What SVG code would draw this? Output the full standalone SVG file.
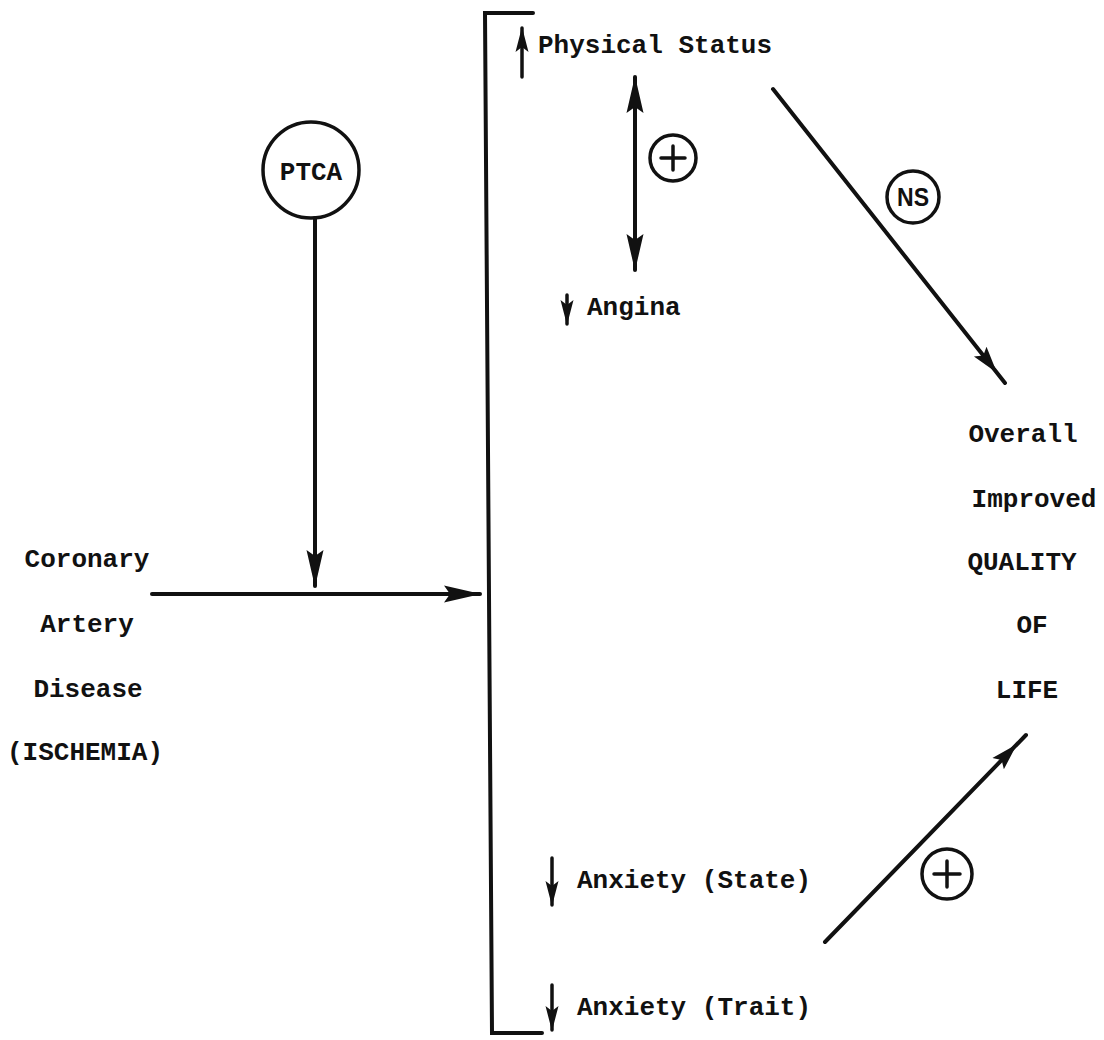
<svg xmlns="http://www.w3.org/2000/svg" width="1104" height="1040" viewBox="0 0 1104 1040">
<defs>
<style>
.t{font-family:"Liberation Mono","DejaVu Sans Mono",monospace;font-weight:bold;font-size:26px;fill:#111}
.ln{stroke:#111;stroke-width:4;fill:none;stroke-linecap:round}
.sl{stroke:#111;stroke-width:3.5;fill:none;stroke-linecap:round}
.circ{stroke:#111;stroke-width:3.5;fill:#fff}
.ns{font-family:"Liberation Sans",Arial,sans-serif;font-weight:bold;font-size:25px;fill:#111}
</style>
<marker id="ah" markerUnits="userSpaceOnUse" viewBox="-40 -10 42 20" refX="0" refY="0" markerWidth="42" markerHeight="20" orient="auto-start-reverse">
<path d="M1,0 L-36,-8.5 L-30,0 L-36,8.5 Z" fill="#111"/>
</marker>
<marker id="ahs" markerUnits="userSpaceOnUse" viewBox="-40 -10 42 20" refX="0" refY="0" markerWidth="42" markerHeight="20" orient="auto">
<path d="M-13,0 L-40,-8 L-35,0 L-40,8 Z" fill="#111"/>
</marker>
<marker id="sm" markerUnits="userSpaceOnUse" viewBox="-26 -7 28 14" refX="0" refY="0" markerWidth="28" markerHeight="14" orient="auto">
<path d="M1,0 L-24,-6.5 L-19,0 L-24,6.5 Z" fill="#111"/>
</marker>
</defs>
<rect width="1104" height="1040" fill="#fff"/>

<g id="bracket">
<path class="ln" d="M533,13 L485,13 L492,1033 L542,1033"/>
</g>

<g id="node-ptca">
<circle class="circ" cx="311" cy="170" r="48"/>
<text class="t" x="311" y="180" text-anchor="middle">PTCA</text>
</g>

<g id="node-cad">
<text class="t" x="87" y="567" text-anchor="middle">Coronary</text>
<text class="t" x="87" y="632" text-anchor="middle">Artery</text>
<text class="t" x="88" y="697" text-anchor="middle">Disease</text>
<text class="t" x="85" y="760" text-anchor="middle">(ISCHEMIA)</text>
</g>

<g id="node-physical">
<line class="sl" x1="522" y1="77" x2="522" y2="28" marker-end="url(#sm)"/>
<text class="t" x="538" y="53">Physical Status</text>
</g>

<g id="node-angina">
<line class="sl" x1="567" y1="295" x2="567" y2="324" marker-end="url(#sm)"/>
<text class="t" x="587" y="315">Angina</text>
</g>

<g id="node-anx-state">
<line class="sl" x1="552" y1="858" x2="552" y2="905" marker-end="url(#sm)"/>
<text class="t" x="577" y="888">Anxiety (State)</text>
</g>

<g id="node-anx-trait">
<line class="sl" x1="552" y1="985" x2="552" y2="1030" marker-end="url(#sm)"/>
<text class="t" x="577" y="1015">Anxiety (Trait)</text>
</g>

<g id="node-qol">
<text class="t" x="1023" y="442" text-anchor="middle">Overall</text>
<text class="t" x="1034" y="507" text-anchor="middle">Improved</text>
<text class="t" x="1022" y="570" text-anchor="middle">QUALITY</text>
<text class="t" x="1032" y="633" text-anchor="middle">OF</text>
<text class="t" x="1027" y="698" text-anchor="middle">LIFE</text>
</g>

<g id="connectors">
<line class="ln" x1="315" y1="218" x2="315" y2="586" marker-end="url(#ah)"/>
<line class="ln" x1="152" y1="594" x2="480" y2="594" marker-end="url(#ah)"/>
<line class="ln" x1="635" y1="77" x2="635" y2="270" marker-start="url(#ah)" marker-end="url(#ah)"/>
<line class="ln" x1="773" y1="89" x2="1005" y2="383" marker-end="url(#ahs)"/>
<line class="ln" x1="825" y1="942" x2="1026" y2="735" marker-end="url(#ahs)"/>
<g id="label-plus-1">
<circle class="circ" cx="673" cy="158" r="23"/>
<line class="sl" x1="661" y1="158" x2="685" y2="158"/>
<line class="sl" x1="673" y1="146" x2="673" y2="170"/>
</g>
<g id="label-ns">
<circle class="circ" cx="913" cy="197" r="26"/>
<text class="ns" x="913" y="206" text-anchor="middle" textLength="32" lengthAdjust="spacingAndGlyphs">NS</text>
</g>
<g id="label-plus-2">
<circle class="circ" cx="947" cy="874" r="25"/>
<line class="sl" x1="934" y1="874" x2="960" y2="874"/>
<line class="sl" x1="947" y1="861" x2="947" y2="887"/>
</g>
</g>
</svg>
